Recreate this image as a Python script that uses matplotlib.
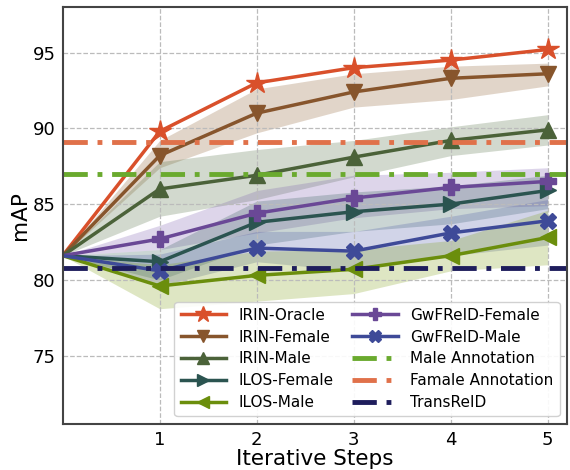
import numpy as np
import matplotlib.pyplot as plt

# Data
steps = [0, 1, 2, 3, 4, 5]

oracle = [81.6, 89.8, 93.0, 94.0, 94.5, 95.2]

irin_female = [81.6, 88.2, 91.0, 92.4, 93.3, 93.6]
irin_female_lo = [81.6, 87.4, 89.7, 91.4, 91.9, 92.8]
irin_female_hi = [81.6, 89.2, 92.6, 93.6, 94.1, 94.3]

irin_male = [81.6, 86.0, 86.9, 88.1, 89.2, 89.9]
irin_male_lo = [81.6, 84.2, 85.3, 86.8, 88.2, 88.9]
irin_male_hi = [81.6, 87.8, 88.6, 89.2, 90.1, 90.9]

ilos_female = [81.6, 81.2, 83.8, 84.5, 85.0, 85.9]
ilos_female_lo = [81.6, 80.0, 82.3, 83.2, 83.7, 84.7]
ilos_female_hi = [81.6, 82.0, 85.2, 85.8, 86.2, 86.9]

ilos_male = [81.6, 79.6, 80.3, 80.7, 81.6, 82.8]
ilos_male_lo = [81.6, 78.1, 78.6, 79.1, 80.6, 81.0]
ilos_male_hi = [81.6, 81.0, 81.9, 82.0, 82.6, 84.6]

gw_female = [81.6, 82.7, 84.4, 85.4, 86.1, 86.5]
gw_female_lo = [81.6, 82.0, 83.1, 84.1, 84.7, 84.9]
gw_female_hi = [81.6, 83.6, 85.9, 86.9, 87.1, 87.4]

gw_male = [81.6, 80.6, 82.1, 81.9, 83.1, 83.9]
gw_male_lo = [81.6, 79.6, 81.2, 80.6, 81.6, 82.3]
gw_male_hi = [81.6, 81.7, 83.2, 83.2, 84.2, 85.3]

male_annotation = 87.0
female_annotation = 89.1
transreid = 80.8

fig = plt.figure(figsize=(5.7, 4.7), dpi=100)
ax = fig.add_axes([0.11, 0.098, 0.885, 0.887])

dashdot = (0, (5, 2, 1, 2))

# shaded bands
bands = [
    (irin_female_lo, irin_female_hi, "#8b5a2b"),
    (irin_male_lo, irin_male_hi, "#4d6b3c"),
    (gw_female_lo, gw_female_hi, "#7a5aae"),
    (ilos_female_lo, ilos_female_hi, "#2f5a55"),
    (gw_male_lo, gw_male_hi, "#4a56a6"),
    (ilos_male_lo, ilos_male_hi, "#7d9e10"),
]
for lo, hi, c in bands:
    ax.fill_between(steps, lo, hi, color=c, alpha=0.25, linewidth=0)

lines = [
    (oracle, "#d9502b", "*", 16, "IRIN-Oracle"),
    (irin_female, "#87552c", "v", 12, "IRIN-Female"),
    (irin_male, "#4b6239", "^", 12, "IRIN-Male"),
    (ilos_female, "#2b5450", ">", 12, "ILOS-Female"),
    (ilos_male, "#6b8e0c", "<", 12, "ILOS-Male"),
    (gw_female, "#6a4896", "P", 12, "GwFReID-Female"),
    (gw_male, "#3e4a98", "X", 12, "GwFReID-Male"),
]
for ys, c, m, ms, lab in lines:
    ax.plot(steps, ys, color=c, marker=m, markersize=ms, linewidth=2.5,
            label=lab, markevery=list(range(1, 6)))

ax.axhline(male_annotation, color="#6aaa2e", linewidth=3.5, linestyle=dashdot,
           label="Male Annotation")
ax.axhline(female_annotation, color="#e0714a", linewidth=3.5, linestyle=dashdot,
           label="Famale Annotation")
ax.axhline(transreid, color="#1e1d5c", linewidth=3.5, linestyle=dashdot,
           label="TransReID")

ax.set_xlim(0, 5.2)
ax.set_ylim(70.5, 98)
ax.set_xticks([1, 2, 3, 4, 5])
ax.set_yticks([75, 80, 85, 90, 95])
ax.tick_params(labelsize=13, length=0, pad=5)
ax.grid(True, linestyle="--", color="#bbbbbb", linewidth=0.9)
for s in ax.spines.values():
    s.set_color("#444444")
    s.set_linewidth(1.5)

ax.set_xlabel("Iterative Steps", fontsize=15.5, labelpad=0)
ax.set_ylabel("mAP", fontsize=15.5, labelpad=2)

ax.legend(ncol=2, loc="lower right", fontsize=11, handlelength=3.0,
          columnspacing=1.2, borderpad=0.4, labelspacing=0.45,
          markerscale=0.75, framealpha=0.9)

fig.savefig("out.png", dpi=100)
